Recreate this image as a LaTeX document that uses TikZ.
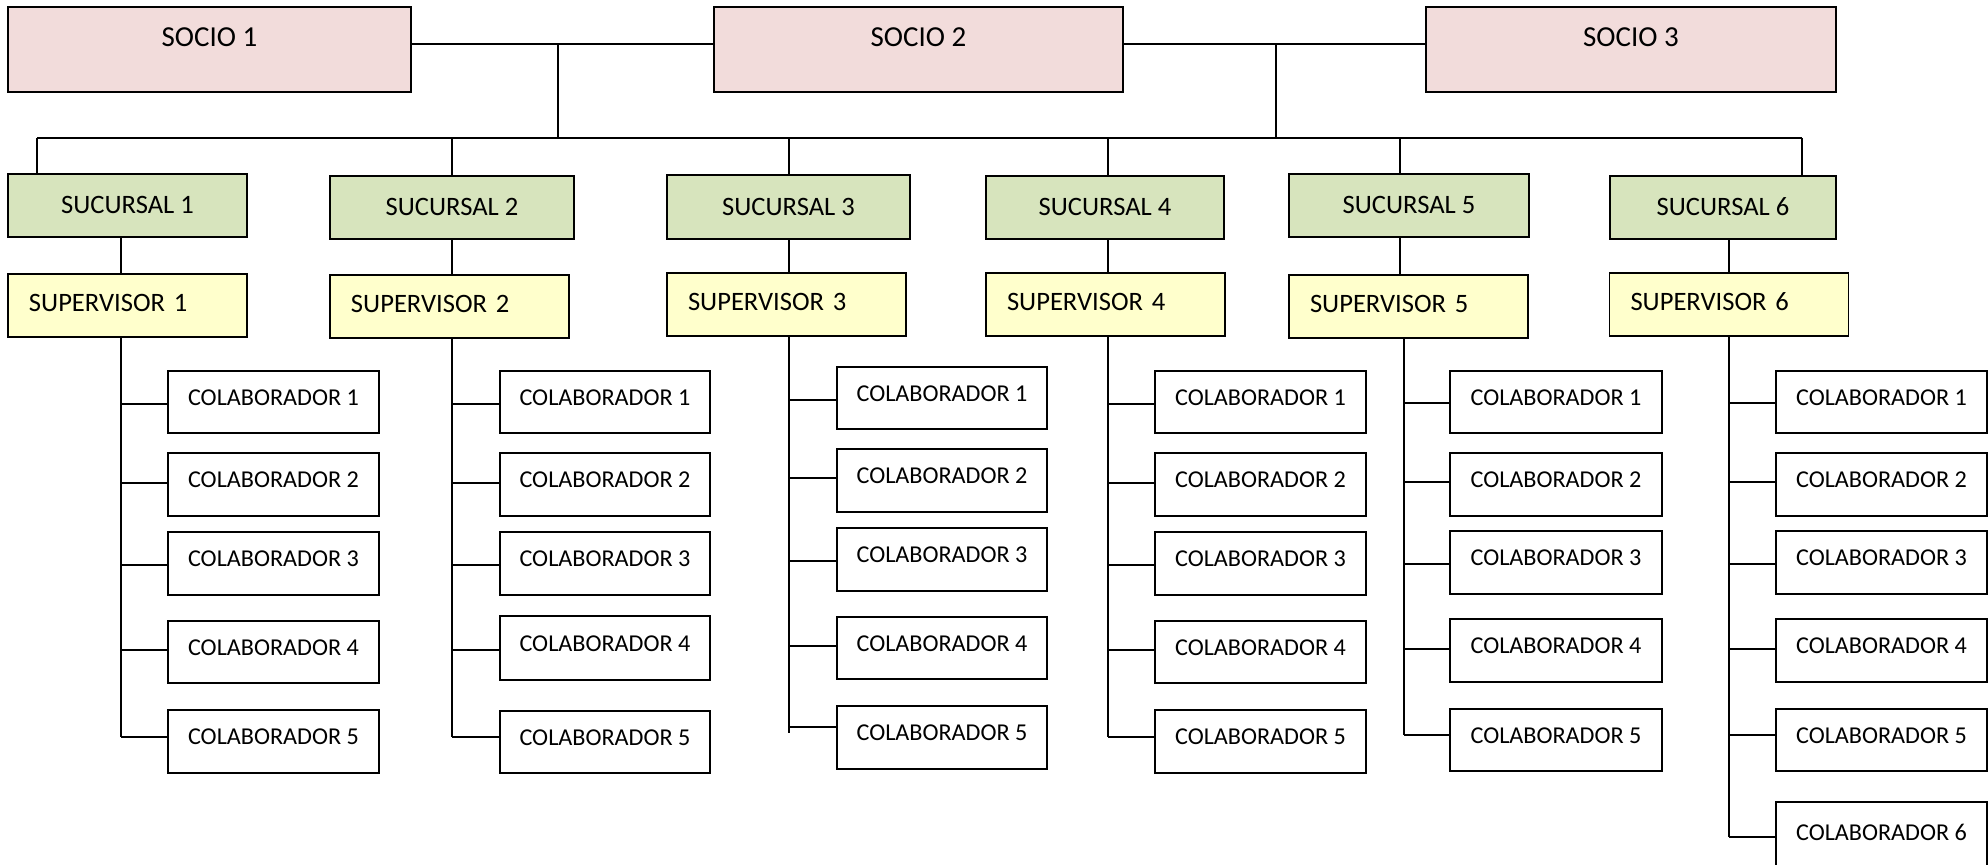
\documentclass[tikz,border=0pt]{standalone}
\usepackage{fontspec}
\setmainfont{Carlito}
\definecolor{sociofill}{HTML}{F2DCDB}
\definecolor{sucfill}{HTML}{D7E4BD}
\definecolor{supfill}{HTML}{FFFFCC}
% one drawing unit = 0.025cm
\def\pxu{0.025cm}
% \orgbox{name}{style}{x1}{y1}{x2}{y2}{text}
\newcommand\orgbox[7]{%
  \node[#2, minimum width={(#5-#3)*\pxu}, minimum height={(#6-#4)*\pxu}]
    (#1) at ({(#3+#5)/2},{(#4+#6)/2}) {#7};}
% \colabcol{id}{line x}{box x1}{box x2}{top/bottom/link y list}{last link y}
\newcommand\colabcol[6]{%
  \draw[link] (p#1.south -| #2,0) -- (#2,#6);
  \foreach \ty/\by/\ly [count=\i] in {#5}{
    \orgbox{c#1-\i}{colab}{#3}{\ty}{#4}{\by}{COLABORADOR \i}
    \draw[link] (#2,\ly) -- (#2,\ly -| c#1-\i.west);
  }}
\begin{document}
\begin{tikzpicture}[x=0.025cm, y=-0.025cm,
  box/.style={draw=black, line width=1.3pt, inner sep=0pt, outer sep=0pt},
  socio/.style={box, fill=sociofill, font=\fontsize{20.6pt}{24pt}\selectfont,
    text height=13pt, text depth=17.8pt},
  sucursal/.style={box, fill=sucfill, font=\fontsize{18.9pt}{22pt}\selectfont,
    text height=12pt, text depth=0pt},
  supervisor/.style={box, fill=supfill, font=\fontsize{18.9pt}{22pt}\selectfont,
    inner xsep=14.94pt, text width=140.1pt, align=left,
    text height=12pt, text depth=3.6pt},
  colab/.style={box, fill=white, font=\fontsize{17.2pt}{20pt}\selectfont,
    text height=10.9pt, text depth=6.4pt},
  link/.style={draw=black, line width=1.1pt}]
\useasboundingbox (0,0) rectangle (1988,865);

% partners
\orgbox{s1}{socio}{8}{7}{411}{92}{SOCIO 1}
\orgbox{s2}{socio}{714}{7}{1123}{92}{SOCIO 2}
\orgbox{s3}{socio}{1426}{7}{1836}{92}{SOCIO 3}

% branches
\orgbox{b1}{sucursal}{8}{174}{247}{237}{SUCURSAL 1}
\orgbox{b2}{sucursal}{330}{176}{574}{239}{SUCURSAL 2}
\orgbox{b3}{sucursal}{667}{175}{910}{239}{SUCURSAL 3}
\orgbox{b4}{sucursal}{986}{176}{1224}{239}{SUCURSAL 4}
\orgbox{b5}{sucursal}{1289}{174}{1529}{237}{SUCURSAL 5}
\orgbox{b6}{sucursal}{1610}{176}{1836}{239}{SUCURSAL 6}

% supervisors
\orgbox{p1}{supervisor}{8}{274}{247}{337}{SUPERVISOR 1}
\orgbox{p2}{supervisor}{330}{275}{569}{338}{SUPERVISOR 2}
\orgbox{p3}{supervisor}{667}{273}{906}{336}{SUPERVISOR 3}
\orgbox{p4}{supervisor}{986}{273}{1225}{336}{SUPERVISOR 4}
\orgbox{p5}{supervisor}{1289}{275}{1528}{338}{SUPERVISOR 5}
\orgbox{p6}{supervisor}{1610}{273}{1848}{336}{SUPERVISOR 6}

% partner links and branch bus
\coordinate (j1) at (558,44);
\coordinate (j2) at (1276,44);
\coordinate (busL) at (37,138);
\coordinate (busR) at (1802,138);
\draw[link] (s1.east |- j1) -- (s2.west |- j1);
\draw[link] (s2.east |- j2) -- (s3.west |- j2);
\draw[link] (j1) -- (j1 |- busL);
\draw[link] (j2) -- (j2 |- busL);
\draw[link] (busL) -- (busR);
\foreach \n/\x in {1/37, 2/452, 3/789, 4/1108, 5/1400, 6/1802}
  \draw[link] (\x,138) -- (b\n.north -| \x,0);

% branch to supervisor
\foreach \n/\x in {1/121, 2/452, 3/789, 4/1108, 5/1400, 6/1729}
  \draw[link] (b\n.south -| \x,0) -- (p\n.north -| \x,0);

% staff columns
\colabcol{1}{121}{168}{379}{371/433/404, 453/516/483, 532/595/565, 621/683/650, 710/773/737}{737}
\colabcol{2}{452}{500}{710}{371/433/404, 453/516/483, 532/595/565, 616/680/650, 711/773/737}{737}
\colabcol{3}{789}{837}{1047}{367/429/400, 449/512/478, 528/591/561, 617/679/646, 706/769/727}{733}
\colabcol{4}{1108}{1155}{1366}{371/433/404, 453/516/483, 532/595/565, 621/683/650, 710/773/737}{737}
\colabcol{5}{1404}{1450}{1662}{371/433/403, 453/516/482, 531/594/564, 619/682/649, 709/771/735}{735}
\colabcol{6}{1729}{1776}{1987}{371/433/403, 453/516/482, 531/594/564, 619/682/649, 709/771/735, 802/872/837}{837}
\end{tikzpicture}
\end{document}
